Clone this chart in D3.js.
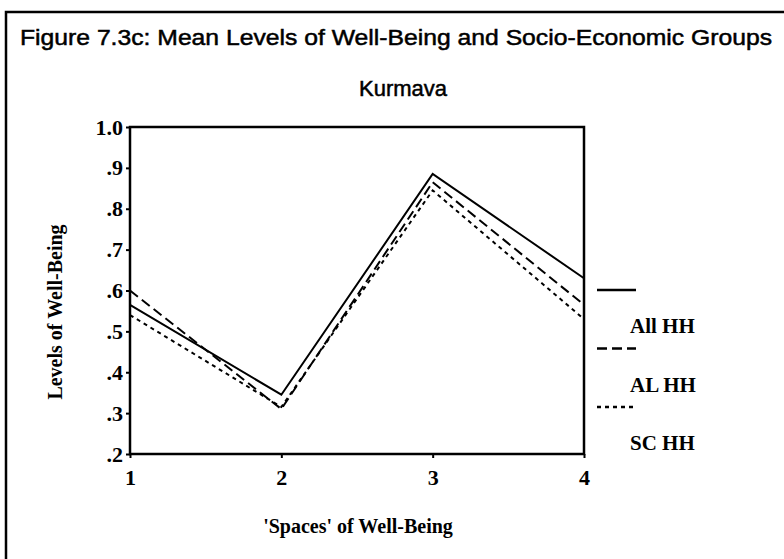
<!DOCTYPE html>
<html>
<head>
<meta charset="utf-8">
<script src="https://cdn.jsdelivr.net/npm/d3@7"></script>
<style>
  body { margin: 0; background: #fff; }
  svg { display: block; }
</style>
</head>
<body>
<div id="chart"></div>
<script>
// spaces of well-being (x categories)
var spaces = [1, 2, 3, 4];
// mean levels per group
var allHH = [0.565, 0.345, 0.885, 0.63];
var alHH  = [0.60, 0.31, 0.865, 0.565];
var scHH  = [0.54, 0.315, 0.845, 0.53];
var groupNames = ["All HH", "AL HH", "SC HH"];
var yTicks = [0.2, 0.3, 0.4, 0.5, 0.6, 0.7, 0.8, 0.9, 1.0];

var width = 784, height = 559;
var plot = {left: 130, right: 584, top: 127, bottom: 454};

var svg = d3.select('#chart').append('svg')
	.attr('width', width)
	.attr('height', height);

var serif = "'Liberation Serif','Times New Roman',serif";
var sans = "'Liberation Sans',Arial,sans-serif";

// outer frame (only top and left edges show in the scan)
svg.append('path')
	.attr('d', 'M6,559V12H784')
	.attr('fill', 'none')
	.attr('stroke', '#000')
	.attr('stroke-width', 2.5);

svg.append('text')
	.attr('x', 396).attr('y', 45)
	.attr('text-anchor', 'middle')
	.style('font-family', sans).style('font-size', '22px')
	.attr('stroke', '#000').attr('stroke-width', 0.5)
	.attr('textLength', 752).attr('lengthAdjust', 'spacingAndGlyphs')
	.text('Figure 7.3c: Mean Levels of Well-Being and Socio-Economic Groups');

svg.append('text')
	.attr('x', 403).attr('y', 96)
	.attr('text-anchor', 'middle')
	.style('font-family', sans).style('font-size', '22px')
	.attr('stroke', '#000').attr('stroke-width', 0.5)
	.text('Kurmava');

var x = d3.scaleLinear().domain([1, 4]).range([plot.left, plot.right]);
var y = d3.scaleLinear().domain([0.2, 1.0]).range([plot.bottom, plot.top]);

// plot box
svg.append('rect')
	.attr('x', plot.left).attr('y', plot.top)
	.attr('width', plot.right - plot.left)
	.attr('height', plot.bottom - plot.top)
	.attr('fill', 'none').attr('stroke', '#000').attr('stroke-width', 2.5);

var fmt = function(d){ return d === 1 ? '1.0' : d3.format('.1f')(d).replace(/^0/, ''); };

var yAxis = svg.append('g')
	.attr('transform', 'translate(' + plot.left + ',0)')
	.call(d3.axisLeft(y).tickValues(yTicks).tickFormat(fmt).tickSize(4).tickPadding(3));

var xAxis = svg.append('g')
	.attr('transform', 'translate(0,' + plot.bottom + ')')
	.call(d3.axisBottom(x).tickValues(spaces).tickFormat(d3.format('d')).tickSize(4).tickPadding(11));

[yAxis, xAxis].forEach(function(g){
	g.select('.domain').remove();
	g.selectAll('line').attr('stroke', '#000').attr('stroke-width', 2);
	g.selectAll('text')
		.style('font-family', serif).style('font-size', '22px')
		.style('font-weight', 'bold').attr('fill', '#000');
});

svg.append('text')
	.attr('transform', 'translate(62,' + 312 + ') rotate(-90)')
	.attr('text-anchor', 'middle')
	.style('font-family', serif).style('font-size', '20px').style('font-weight', 'bold')
	.text('Levels of Well-Being');

svg.append('text')
	.attr('x', 358).attr('y', 533)
	.attr('text-anchor', 'middle')
	.style('font-family', serif).style('font-size', '20px').style('font-weight', 'bold')
	.text("'Spaces' of Well-Being");

var series = [allHH, alHH, scHH];
var dashes = [null, '10,5', '4,4'];

var line = d3.line()
	.x(function(d, i){ return x(spaces[i]); })
	.y(function(d){ return y(d); });

svg.selectAll('.series')
	.data(series)
	.enter().append('path')
	.attr('class', 'series')
	.attr('d', line)
	.attr('fill', 'none')
	.attr('stroke', '#000')
	.attr('stroke-width', 2)
	.attr('stroke-dasharray', function(d, i){ return dashes[i]; });

// legend
var legend = svg.selectAll('.legend')
	.data(groupNames)
	.enter().append('g')
	.attr('class', 'legend')
	.attr('transform', function(d, i){ return 'translate(597,' + (290 + i * 58.5) + ')'; });

legend.append('line')
	.attr('x1', 0).attr('x2', 39)
	.attr('stroke', '#000').attr('stroke-width', 2.5)
	.attr('stroke-dasharray', function(d, i){ return dashes[i]; });

legend.append('text')
	.attr('x', 33).attr('y', 43)
	.style('font-family', serif).style('font-size', '21px').style('font-weight', 'bold')
	.text(function(d){ return d; });
</script>
</body>
</html>
